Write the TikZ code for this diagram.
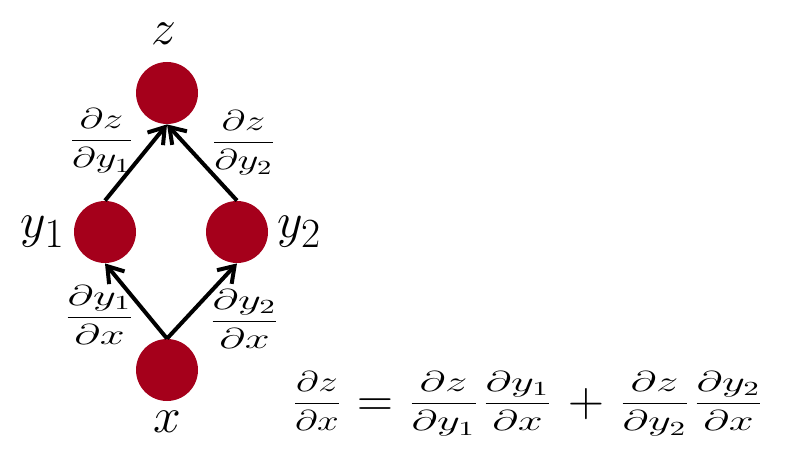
\documentclass[tikz,border=0pt]{standalone}
\usepackage{graphicx}
\usepackage{tikz}
\usetikzlibrary{positioning,arrows.meta}
\definecolor{N1}{RGB}{165,0,27}
% the fractions in the picture are set wider than TeX sets them
\newcommand{\pfrac}[3][1.4]{\scalebox{#1}[1]{$\displaystyle\frac{#2}{#3}$}}
\newcommand{\bigop}[1]{\hspace{7.5pt}\raisebox{-2.6pt}{\Huge$#1$}\hspace{7.5pt}}

\begin{document}
\begin{tikzpicture}[
  x=0.5pt, y=-0.5pt,
  vert/.style = {circle, fill=N1, minimum size=31pt, inner sep=0pt},
  vlabel/.style = {font=\Huge},
  elabel/.style = {font=\Large},
  da/.style = {-{Straight Barb[length=7.5pt,width=10pt]}, line width=2pt, black}
]
\useasboundingbox (0,0) rectangle (796,464);

%% ---------- Graph nodes ----------
\node[vert] (z)  at (167,93)  {};
\node[vert] (y1) at (105,232) {};
\node[vert] (y2) at (237,232) {};
\node[vert] (x)  at (167,370) {};

\node[vlabel, above=5pt of z, xshift=-1.5pt] (zl)  {$z$};
\node[vlabel, left=1pt of y1]    (y1l) {$y_1$};
\node[vlabel, right=1pt of y2]   (y2l) {$y_2$};
\node[vlabel, below=1.5pt of x]  (xl)  {$x$};

%% ---------- Edges ----------
\draw[da] (x.north)  -- (y1.south);
\draw[da] (x.north)  -- (y2.south);
\draw[da] (y1.north) -- (z.south);
\draw[da] (y2.north) -- (z.south);

% local derivatives
\node[elabel] (dzy1) at (101.5,141) {\pfrac[1.42]{\partial z}{\partial y_1}};
\node[elabel] (dzy2) at (243.5,143) {\pfrac[1.42]{\partial z}{\partial y_2}};
\node[elabel] (dy1x) at (99.5,315)  {\pfrac[1.55]{\partial y_1}{\partial x}};
\node[elabel] (dy2x) at (244.5,319) {\pfrac[1.55]{\partial y_2}{\partial x}};

%% ---------- Chain rule ----------
\node[elabel, inner sep=0pt] (chain) at (528,404)
  {\pfrac[1.35]{\partial z}{\partial x}\bigop{=}%
   \pfrac[1.55]{\partial z}{\partial y_1}\hspace{1.3pt}\pfrac[1.55]{\partial y_1}{\partial x}\bigop{+}%
   \pfrac[1.55]{\partial z}{\partial y_2}\hspace{1.3pt}\pfrac[1.55]{\partial y_2}{\partial x}};

\end{tikzpicture}
\end{document}
